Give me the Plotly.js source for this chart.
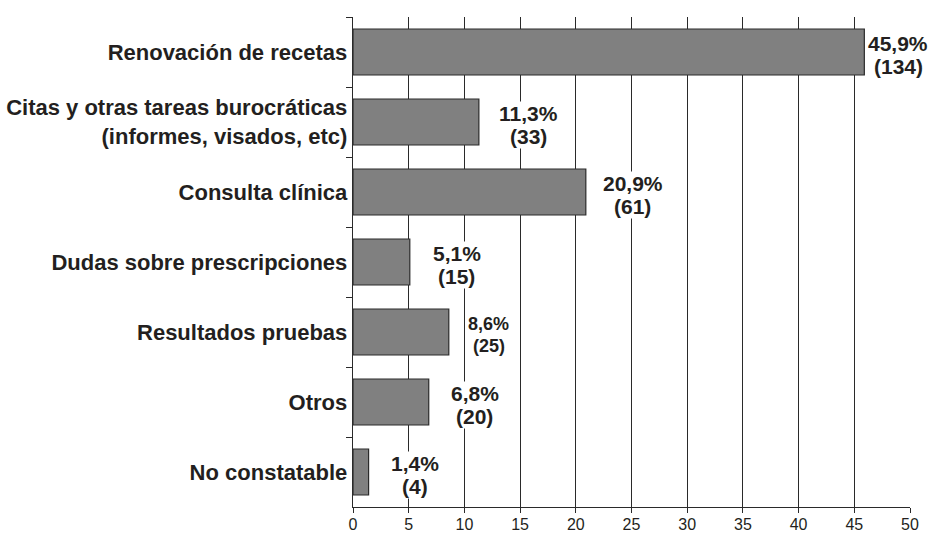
<!DOCTYPE html>
<html>
<head>
<meta charset="utf-8">
<script src="https://cdn.plot.ly/plotly-3.0.1.min.js"></script>
<style>html,body{margin:0;padding:0;background:#fff;}#chart{width:931px;height:535px;}</style>
</head>
<body>
<div id="chart"></div>
<script>
const categories = [
  "Renovación de recetas",
  "Citas y otras tareas burocráticas<br>(informes, visados, etc)",
  "Consulta clínica",
  "Dudas sobre prescripciones",
  "Resultados pruebas",
  "Otros",
  "No constatable"
];
const percentages = [45.9, 11.3, 20.9, 5.1, 8.6, 6.8, 1.4];
const counts = [134, 33, 61, 15, 25, 20, 4];
const xTickValues = [0, 5, 10, 15, 20, 25, 30, 35, 40, 45, 50];

// label styling (pixel offsets from bar end, font sizes)
const labelShift = [34, 50, 47, 47, 40, 46, 46];
const labelSize = [21, 21, 21, 21, 18, 21, 21];

const ink = '#231f20';
const lineCol = '#2a2a2a';
const fam = '"Liberation Sans", Arial, Helvetica, sans-serif';

const trace = {
  type: 'bar',
  orientation: 'h',
  x: percentages,
  y: categories,
  marker: {color: '#808080', line: {color: lineCol, width: 1.2}},
  hoverinfo: 'none'
};

const annotations = [];
percentages.forEach((p, i) => {
  const common = {
    x: p, y: categories[i], xref: 'x', yref: 'y',
    xanchor: 'center', yanchor: 'middle', showarrow: false,
    xshift: labelShift[i], bgcolor: '#ffffff', borderpad: 0,
    font: {family: fam, size: labelSize[i], color: ink, weight: 'bold'}
  };
  annotations.push(Object.assign({}, common, {
    text: p.toFixed(1).replace('.', ',') + '%', yshift: 8.5
  }));
  annotations.push(Object.assign({}, common, {
    text: '(' + counts[i] + ')', yshift: -14
  }));
});

const layout = {
  width: 931, height: 535,
  margin: {l: 353, r: 21, t: 17, b: 28, pad: 0},
  paper_bgcolor: '#ffffff', plot_bgcolor: '#ffffff',
  showlegend: false,
  bargap: 0.343,
  xaxis: {
    range: [0, 50], tickvals: xTickValues, ticktext: xTickValues.map(String),
    showgrid: true, gridcolor: lineCol, gridwidth: 1,
    zeroline: false, showline: true, linecolor: lineCol, linewidth: 1.3,
    ticks: 'outside', ticklen: 5, tickwidth: 1, tickcolor: lineCol,
    ticklabelstandoff: -3,
    tickfont: {family: fam, size: 16, color: ink}, fixedrange: true
  },
  yaxis: {
    type: 'category', autorange: 'reversed',
    showgrid: false, zeroline: false, showline: true, linecolor: lineCol, linewidth: 1.3,
    ticks: 'outside', tickson: 'boundaries', ticklen: 6, tickwidth: 1, tickcolor: lineCol,
    tickfont: {family: fam, size: 22, color: ink, weight: 'bold'}, fixedrange: true
  },
  annotations: annotations
};

Plotly.newPlot('chart', [trace], layout, {displayModeBar: false, staticPlot: true});
</script>
</body>
</html>
